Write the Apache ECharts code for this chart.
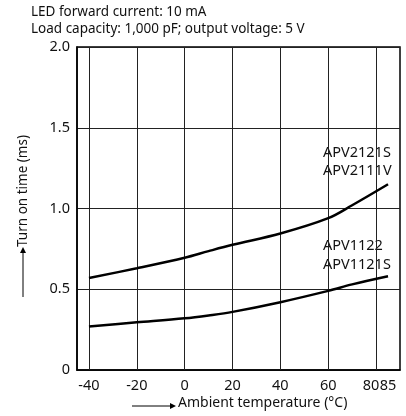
<!DOCTYPE html>
<html>
<head>
<meta charset="utf-8">
<script src="https://cdn.jsdelivr.net/npm/echarts@6/dist/echarts.min.js"></script>
<style>
html,body{margin:0;padding:0;background:#fff;}
#chart{width:406px;height:416px;}
</style>
</head>
<body>
<div id="chart"></div>
<script>
// Data
var temperatures = [-40, -20, 0, 10, 20, 40, 60, 70, 85];
var apv2121s = [0.57, 0.63, 0.695, 0.736, 0.775, 0.845, 0.94, 1.02, 1.15];
var apv1122 = [0.27, 0.295, 0.32, 0.338, 0.36, 0.42, 0.49, 0.53, 0.58];
var xTickLabels = [-40, -20, 0, 20, 40, 60, 80];
var xExtraLabels = [85];
var xGridValues = [-40, -20, 0, 20, 40, 60, 80];
var titleLines = ['LED forward current: 10 mA', 'Load capacity: 1,000 pF; output voltage: 5 V'];
var seriesLabels = [['APV2121S', 'APV2111V'], ['APV1122', 'APV1121S']];
var xName = 'Ambient temperature (\u00B0C)';
var yName = 'Turn on time (ms)';

var FONT = 'Noto Sans';
function pairs(xs, ys){ return xs.map(function(x,i){ return [x, ys[i]]; }); }

var chart = echarts.init(document.getElementById('chart'), null, {renderer:'canvas'});
var baseX = {
  type: 'value', min: -45, max: 90, position: 'bottom',
  axisTick: {show: false},
  splitLine: {show: false}
};
var option = {
  animation: false,
  backgroundColor: '#fff',
  textStyle: {fontFamily: FONT},
  grid: {left: 77, right: 6, top: 47, bottom: 46, show: true, borderColor: '#000', borderWidth: 1.5, containLabel: false},
  xAxis: [
    Object.assign({}, baseX, {
      axisLine: {show: true, onZero: false, lineStyle: {color: '#000', width: 1.5}},
      axisLabel: {customValues: xTickLabels, color: '#111', fontSize: 14.5, fontFamily: FONT, margin: 8,
        hideOverlap: false,
        formatter: function(v){ return v === 80 ? '{s|80}' : String(v); },
        rich: {s: {fontSize: 14.5, fontFamily: FONT, color: '#111', padding: [0, 10, 0, 0]}}}
    }),
    Object.assign({}, baseX, {
      axisLine: {show: false, onZero: false},
      axisLabel: {customValues: xExtraLabels, color: '#111', fontSize: 14.5, fontFamily: FONT, margin: 8,
        hideOverlap: false}
    })
  ],
  yAxis: {
    type: 'value', min: 0, max: 2, interval: 0.5,
    axisLine: {show: true, onZero: false, lineStyle: {color: '#000', width: 1.5}},
    axisTick: {show: false},
    splitLine: {show: true, lineStyle: {color: '#222', width: 1}},
    axisLabel: {color: '#111', fontSize: 14.5, fontFamily: FONT, margin: 7,
      formatter: function(v){ return v === 0 ? '0' : v.toFixed(1); }}
  },
  series: [
    {
      type: 'line', data: pairs(temperatures, apv2121s), smooth: 0.35, symbol: 'none',
      lineStyle: {color: '#000', width: 2.5}, z: 5,
      markLine: {
        silent: true, symbol: 'none', label: {show: false},
        lineStyle: {color: '#222', width: 1, type: 'solid'},
        data: xGridValues.map(function(v){ return {xAxis: v}; })
      }
    },
    {
      type: 'line', data: pairs(temperatures, apv1122), smooth: 0.35, symbol: 'none',
      lineStyle: {color: '#000', width: 2.5}, z: 5
    }
  ],
  graphic: [
    {type: 'text', left: 31, top: 5, style: {text: titleLines[0], fill: '#111', font: '13.5px "Noto Sans"'}},
    {type: 'text', left: 31, top: 22, style: {text: titleLines[1], fill: '#111', font: '13.5px "Noto Sans"'}},
    {type: 'text', left: 323, top: 145, style: {text: seriesLabels[0][0], fill: '#111', font: '14.5px "Noto Sans"'}},
    {type: 'text', left: 323, top: 163, style: {text: seriesLabels[0][1], fill: '#111', font: '14.5px "Noto Sans"'}},
    {type: 'text', left: 323, top: 238, style: {text: seriesLabels[1][0], fill: '#111', font: '14.5px "Noto Sans"'}},
    {type: 'text', left: 323, top: 257, style: {text: seriesLabels[1][1], fill: '#111', font: '14.5px "Noto Sans"'}},
    // x axis name with arrow
    {type: 'line', shape: {x1: 132, y1: 406, x2: 171, y2: 406}, style: {stroke: '#000', lineWidth: 1}},
    {type: 'polygon', shape: {points: [[170, 403], [176, 406], [170, 409]]}, style: {fill: '#000'}},
    {type: 'text', left: 178, top: 396, style: {text: xName, fill: '#111', font: '14px "Noto Sans"'}},
    // y axis name with arrow
    {type: 'line', shape: {x1: 23, y1: 297, x2: 23, y2: 252}, style: {stroke: '#000', lineWidth: 1}},
    {type: 'polygon', shape: {points: [[20, 253], [23, 247], [26, 253]]}, style: {fill: '#000'}},
    {type: 'text', x: 23, y: 191, rotation: Math.PI / 2,
      style: {text: yName, fill: '#111', font: '13.5px "Noto Sans"', align: 'center', verticalAlign: 'middle'}}
  ]
};
chart.setOption(option);
</script>
</body>
</html>
